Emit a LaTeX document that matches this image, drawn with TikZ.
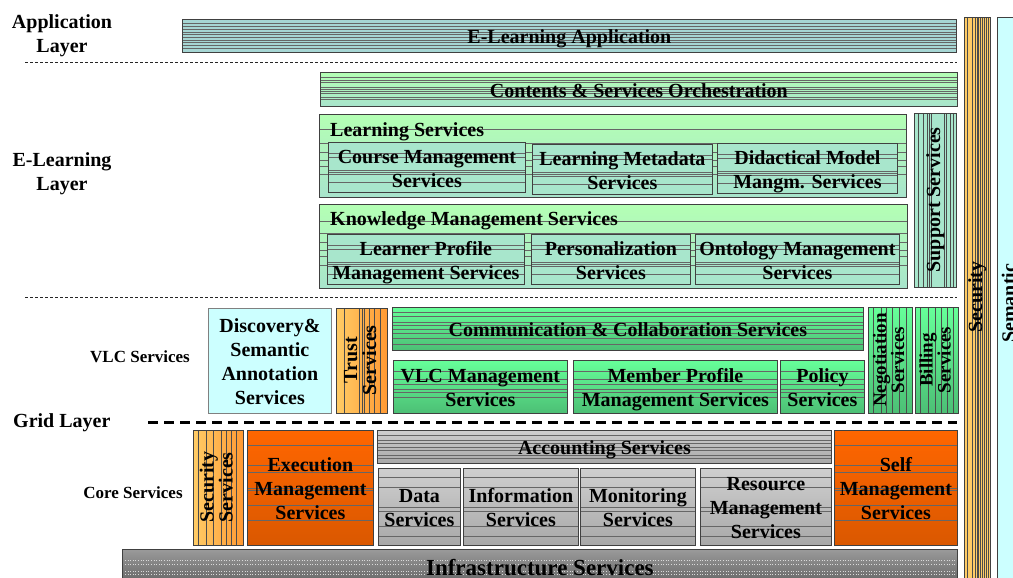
\documentclass[tikz,border=0pt]{standalone}
\usepackage{fontspec}
\setmainfont{Liberation Serif}
\usetikzlibrary{calc}
\definecolor{appc}{HTML}{A6D6D4}
\definecolor{lgtop}{HTML}{B4FFB4}
\definecolor{lgbot}{HTML}{A8E4CC}
\definecolor{tealc}{HTML}{A8E6CC}
\definecolor{vgtop}{HTML}{66FF99}
\definecolor{vgbot}{HTML}{4CBF75}
\definecolor{orl}{HTML}{FFCC66}
\definecolor{orr}{HTML}{FF9933}
\definecolor{extop}{HTML}{FF6600}
\definecolor{exbot}{HTML}{DA5800}
\definecolor{gtop}{HTML}{CFCFCF}
\definecolor{gbot}{HTML}{A8A8A8}
\definecolor{itop}{HTML}{9A9A9A}
\definecolor{ibot}{HTML}{626262}
\definecolor{cyanl}{HTML}{CCFFFF}
\newcommand\bx[7]{\node[#6, anchor=north west, minimum width={#4-#2}, minimum height={#5-#3}] (#1) at (#2,#3) {\raisebox{-3pt}[\height][\depth]{\begin{tabular}{@{}c@{}}#7\end{tabular}}};}
\newcommand\vt[2]{\rotatebox{90}{\begin{tabular}{@{}c@{}}#1\\[-5pt]#2\end{tabular}}}
\tikzset{
  cbox/.style={draw=black!75, line width=0.8pt, inner sep=1pt, align=center,
    font=\fontsize{20}{24}\selectfont\bfseries},
  hl/.style={path picture={\foreach \f in {#1}{\draw[line width=0.45pt, black!60]
    ($(path picture bounding box.north west)!\f!(path picture bounding box.south west)$) --
    ($(path picture bounding box.north east)!\f!(path picture bounding box.south east)$);}}},
  hl/.default={0.22,0.3,0.55,0.6,0.64,0.8},
  vl/.style={path picture={\foreach \f in {#1}{\draw[line width=0.45pt, black!70]
    ($(path picture bounding box.north west)!\f!(path picture bounding box.north east)$) --
    ($(path picture bounding box.south west)!\f!(path picture bounding box.south east)$);}}},
  vl/.default={0.15,0.3,0.42,0.48,0.6,0.66,0.8},
  lab/.style={font=\fontsize{20}{24}\selectfont\bfseries, align=center, inner sep=0pt},
  slab/.style={font=\fontsize{17}{20}\selectfont\bfseries, inner sep=0pt},
  green1/.style={cbox, top color=lgtop, bottom color=lgbot},
  teal1/.style={cbox, fill=tealc, hl},
  vgreen/.style={cbox, top color=vgtop, bottom color=vgbot},
  orange1/.style={cbox, left color=orl, right color=orr},
  exorange/.style={cbox, top color=extop, bottom color=exbot, hl={0.13,0.3,0.36,0.5,0.52,0.65,0.78}},
  grey1/.style={cbox, top color=gtop, bottom color=gbot, hl={0.12,0.25,0.5,0.55,0.75,0.88}},
  sep/.style={dash pattern=on 3pt off 2pt, line width=0.8pt, black!85},
}
\begin{document}
\begin{tikzpicture}[x=1pt,y=-1pt]
\useasboundingbox (0,0) rectangle (1013,578);
% layer labels
\node[lab] (appl) at (62,36) {Application\\Layer};
\node[lab] (ell) at (62,174) {E-Learning\\Layer};
\node[slab] (vlcl) at (140,357) {VLC Services};
\node[lab, anchor=west] (gridl) at (13,423) {Grid Layer};
\node[slab] (corel) at (133,493) {Core Services};
% separators
\coordinate (s1a) at (25,62); \coordinate (s1b) at (957,62);
\coordinate (s2a) at (25,297); \coordinate (s2b) at (957,297);
\coordinate (s3a) at (148,422); \coordinate (s3b) at (957,422);
\draw[sep] (s1a) -- (s1b);
\draw[sep] (s2a) -- (s2b);
\draw[line width=3pt, dash pattern=on 10pt off 6pt] (s3a) -- (s3b);
% application layer
\bx{app}{182}{19}{956}{52}{cbox, fill=appc, hl={0.12,0.2,0.3,0.38,0.46,0.55,0.62,0.7,0.78,0.86}}{E-Learning Application}
% e-learning layer
\bx{orch}{320}{72}{957}{106}{green1, hl={0.15,0.22,0.3,0.45,0.5,0.55,0.62,0.72,0.8}}{Contents \& Services Orchestration}
\bx{ls}{319}{114}{906}{197}{green1, hl={0.18,0.35,0.45,0.55,0.62,0.72}}{}
\node[lab, anchor=west] (lst) at (330,131.5) {Learning Services};
\bx{cms}{328}{142}{525}{192}{teal1}{Course Management\\Services}
\bx{lms}{532}{144}{712}{193}{teal1}{Learning Metadata\\Services}
\bx{dms}{717}{143}{897}{193}{teal1}{Didactical Model\\Mangm. Services}
\bx{kms}{319}{204}{907}{288}{green1, hl={0.2,0.34,0.45,0.55,0.62,0.72}}{}
\node[lab, anchor=west] (kmt) at (330,220.5) {Knowledge Management Services};
\bx{lpm}{327}{234}{524}{284}{teal1}{Learner Profile\\Management Services}
\bx{pers}{531}{234}{690}{284}{teal1}{Personalization\\Services}
\bx{onto}{695}{234}{899}{284}{teal1}{Ontology Management\\Services}
\bx{sup}{914}{113}{956}{287}{cbox, fill=tealc, vl={0.1,0.2,0.3,0.35,0.4,0.7,0.75,0.85,0.92}}{\rotatebox{90}{Support Services}}
% cross-cutting bars
\bx{secbar}{964}{17}{990}{590}{cbox, fill=orl, vl={0.12,0.3,0.4,0.48,0.55,0.62,0.7,0.78,0.85,0.92}}{\rotatebox{90}{\hspace{12pt}Security}}
\bx{sembar}{997}{17}{1020}{590}{cbox, fill=cyanl}{\rotatebox{90}{Semantic}}
% VLC services
\bx{disc}{208}{308}{331}{413}{cbox, draw=black!50, fill=cyanl}{Discovery\&\\Semantic\\Annotation\\Services}
\bx{trust}{336}{308}{387}{413}{orange1, vl={0.15,0.45,0.5,0.55,0.65,0.75,0.85}}{\vt{Trust}{Services}}
\bx{comm}{392}{307}{863}{350}{vgreen, hl={0.12,0.2,0.35,0.42,0.5,0.6,0.72,0.85}}{Communication \& Collaboration Services}
\bx{vlcm}{393}{360}{567}{413}{vgreen, hl={0.2,0.35,0.45,0.55,0.6,0.7}}{VLC Management\\Services}
\bx{mpm}{573}{360}{777}{413}{vgreen, hl={0.2,0.35,0.45,0.55,0.6,0.7}}{Member Profile\\Management Services}
\bx{pol}{780}{360}{864}{413}{vgreen, hl={0.2,0.35,0.45,0.55,0.6,0.7}}{Policy\\Services}
\bx{neg}{868}{307}{912}{413}{vgreen, vl={0.12,0.3,0.4,0.55,0.7,0.85}, font=\fontsize{19}{23}\selectfont\bfseries}{\vt{Negotiation}{Services}}
\bx{bill}{915}{307}{957}{413}{vgreen, vl={0.12,0.3,0.45,0.6,0.75,0.88}, font=\fontsize{19}{23}\selectfont\bfseries}{\vt{Billing}{Services}}
% core services
\bx{secs}{193}{430}{243}{545}{orange1, vl={0.1,0.25,0.4,0.55,0.65,0.75,0.85}}{\vt{Security}{Services}}
\bx{exec}{247}{430}{373}{545}{exorange}{Execution\\Management\\Services}
\bx{acc}{377}{430}{831}{463}{cbox, top color=gtop, bottom color=gbot, hl={0.15,0.3,0.4,0.5,0.6,0.75,0.85}}{Accounting Services}
\bx{data}{378}{468}{460}{545}{grey1}{Data\\Services}
\bx{info}{463}{468}{578}{545}{grey1}{Information\\Services}
\bx{mon}{580}{468}{695}{545}{grey1}{Monitoring\\Services}
\bx{res}{700}{468}{831}{545}{grey1}{Resource\\Management\\Services}
\bx{self}{834}{430}{957}{545}{exorange}{Self\\Management\\Services}
\bx{infra}{122}{549}{957}{585}{cbox, top color=itop, bottom color=ibot, font=\fontsize{23}{27}\selectfont\bfseries,
  path picture={\foreach \f in {0.3,0.4,0.6,0.7}{\draw[line width=0.6pt, white!85!black, dotted]
    ($(path picture bounding box.north west)!\f!(path picture bounding box.south west)$) --
    ($(path picture bounding box.north east)!\f!(path picture bounding box.south east)$);}}}{Infrastructure Services}
\end{tikzpicture}
\end{document}
